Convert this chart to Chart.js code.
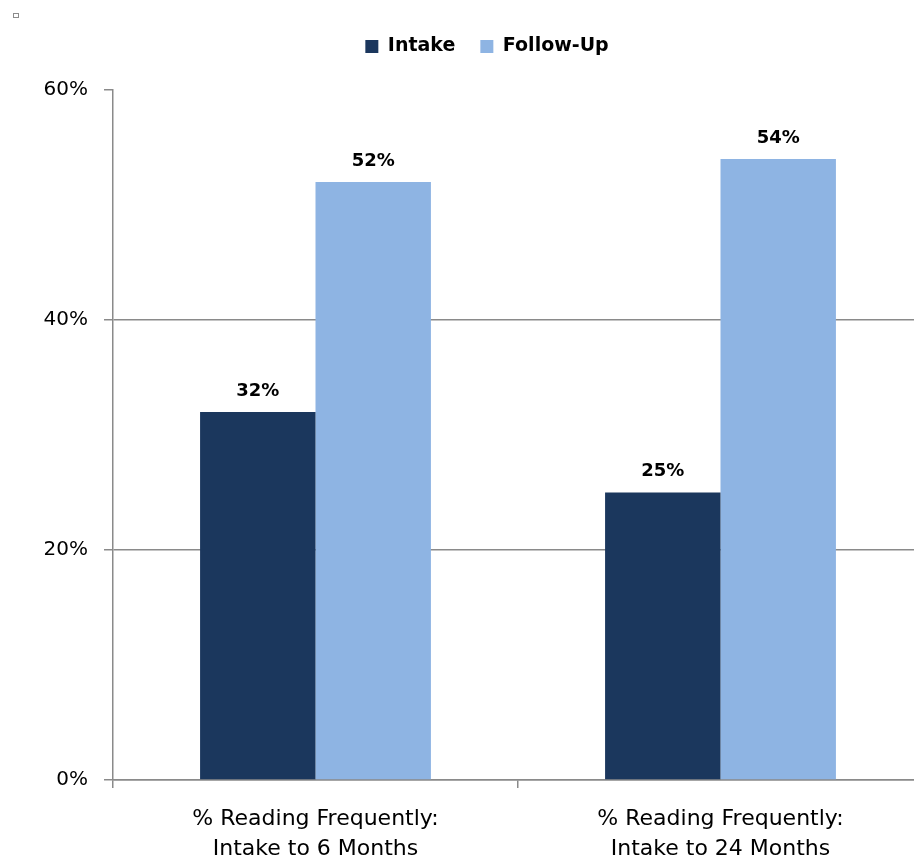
<!DOCTYPE html>
<html>
<head>
<meta charset="utf-8">
<script src="https://cdn.jsdelivr.net/npm/chart.js@4/dist/chart.umd.min.js"></script>
<style>
  html, body { margin: 0; padding: 0; background: #ffffff; }
  #wrap { width: 914px; height: 859px; overflow: hidden; position: relative; }
  canvas { display: block; }
</style>
</head>
<body>
<div id="wrap"><canvas id="chart" width="923" height="859"></canvas></div>
<script>
// Categories (two lines each) and series values, in percent
const categories = [
  ["% Reading Frequently:", "Intake to 6 Months"],
  ["% Reading Frequently:", "Intake to 24 Months"]
];
const intakeValues = [32, 25];
const followUpValues = [52, 54];
const seriesNames = ["Intake", "Follow-Up"];
const yTicks = [0, 20, 40, 60];

const AXIS_GRAY = "#8a8a8a";

// Bold value labels above each bar
const valueLabels = {
  id: "valueLabels",
  afterDatasetsDraw(chart) {
    const ctx = chart.ctx;
    ctx.save();
    ctx.font = "bold 18px 'DejaVu Sans'";
    ctx.fillStyle = "#000000";
    ctx.textAlign = "center";
    ctx.textBaseline = "middle";
    chart.data.datasets.forEach((ds, i) => {
      chart.getDatasetMeta(i).data.forEach((el, j) => {
        ctx.fillText(ds.data[j] + "%", el.x, el.y - 21);
      });
    });
    ctx.restore();
  }
};

// Extra space under the legend, and legend centred over the plot region
const legendPlacement = {
  id: "legendPlacement",
  beforeInit(chart) {
    const legend = chart.legend;
    const origFit = legend.fit;
    legend.fit = function () {
      origFit.call(this);
      this.height += 24;
    };
  },
  afterLayout(chart) {
    chart.legend.left += 51;
  }
};

// Small outlined marker in the top-left corner
const cornerMark = {
  id: "cornerMark",
  afterDraw(chart) {
    const ctx = chart.ctx;
    ctx.save();
    ctx.strokeStyle = "#8c8c8c";
    ctx.lineWidth = 1;
    ctx.strokeRect(13.5, 13.5, 5, 4);
    ctx.restore();
  }
};

new Chart(document.getElementById("chart"), {
  type: "bar",
  data: {
    labels: categories,
    datasets: [
      { label: seriesNames[0], data: intakeValues, backgroundColor: "#1b375d" },
      { label: seriesNames[1], data: followUpValues, backgroundColor: "#8eb4e3" }
    ]
  },
  options: {
    responsive: false,
    devicePixelRatio: 1,
    animation: false,
    layout: { padding: { left: 0, top: 12, right: 0, bottom: -21 } },
    datasets: {
      bar: { categoryPercentage: 0.57, barPercentage: 1.0 }
    },
    plugins: {
      tooltip: { enabled: false },
      legend: {
        position: "top",
        labels: {
          boxWidth: 13,
          boxHeight: 13,
          padding: 25,
          color: "#000000",
          font: { family: "'DejaVu Sans'", size: 19, weight: "bold" }
        }
      }
    },
    scales: {
      x: {
        offset: true,
        grid: {
          offset: true,
          drawOnChartArea: false,
          drawTicks: true,
          tickLength: 8,
          tickColor: AXIS_GRAY,
          lineWidth: 1.5
        },
        border: { display: true, color: AXIS_GRAY, width: 1.5 },
        ticks: {
          color: "#000000",
          padding: 16,
          maxRotation: 0,
          autoSkip: false,
          font: { family: "'DejaVu Sans'", size: 22, lineHeight: "30px" }
        }
      },
      y: {
        min: 0,
        max: 60,
        afterFit(scale) { scale.width = 113; },
        afterBuildTicks(scale) { scale.ticks = yTicks.map(v => ({ value: v })); },
        grid: {
          drawTicks: true,
          tickLength: 9,
          tickColor: AXIS_GRAY,
          lineWidth: 1.5,
          color: (c) => (c.tick && c.tick.value === 60) ? "rgba(0,0,0,0)" : AXIS_GRAY
        },
        border: { display: true, color: AXIS_GRAY, width: 1.5 },
        ticks: {
          color: "#000000",
          padding: 16,
          font: { family: "'DejaVu Sans'", size: 20 },
          callback: (v) => v + "%"
        }
      }
    }
  },
  plugins: [valueLabels, legendPlacement, cornerMark]
});
</script>
</body>
</html>
